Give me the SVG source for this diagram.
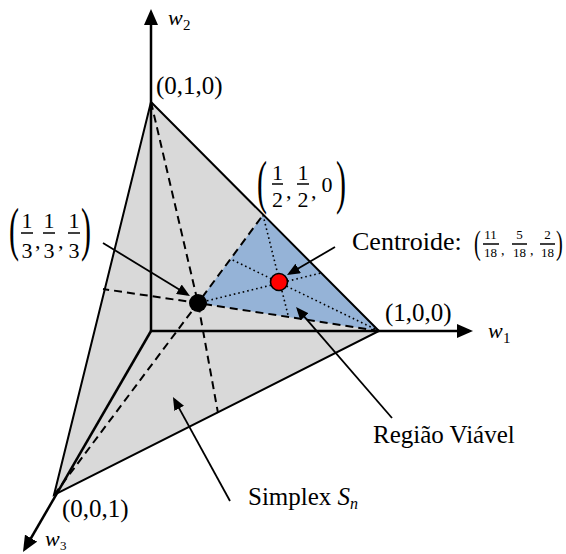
<svg xmlns="http://www.w3.org/2000/svg" width="566" height="554" viewBox="0 0 566 554">
<defs>
<style>
.edge{stroke:#000;stroke-width:2;fill:none;stroke-linejoin:miter}
.axis{stroke:#000;stroke-width:2.5;fill:none}
.dash{stroke:#000;stroke-width:2;stroke-dasharray:8 5;fill:none}
.dotl{stroke:#000;stroke-width:1.6;stroke-dasharray:1.6 3;fill:none}
.ptr{stroke:#000;stroke-width:1.8;fill:none}
.t{font-family:"Liberation Serif","Times New Roman",serif;fill:#000}
.it{font-family:"Liberation Serif","Times New Roman",serif;font-style:italic;fill:#000}
.fr{font-family:"Liberation Serif","Times New Roman",serif;fill:#000;text-anchor:middle}
.bar{stroke:#000;stroke-width:1.5}
</style>
<marker id="ax" markerUnits="userSpaceOnUse" viewBox="0 0 16 14" markerWidth="16" markerHeight="14" refX="12" refY="7" orient="auto"><path d="M0,0 L16,7 L0,14 z" fill="#000"/></marker>
<marker id="pt" markerUnits="userSpaceOnUse" viewBox="0 0 13 11" markerWidth="13" markerHeight="11" refX="10" refY="5.5" orient="auto"><path d="M0,0 L13,5.5 L0,11 z" fill="#000"/></marker>
</defs>
<rect width="566" height="554" fill="#fff"/>

<g id="simplex">
<polygon points="151,102 379,331 54,495" fill="#d9d9d9" stroke="none"/>
</g>
<g id="feasible-region">
<polygon points="263,215 198,303 379,331" fill="#95b3d7" stroke="none"/>
</g>

<g id="connectors">
<line class="axis" x1="151" y1="331" x2="151" y2="13" marker-end="url(#ax)"/>
<line class="axis" x1="151" y1="331" x2="469" y2="331" marker-end="url(#ax)"/>
<line class="axis" x1="151" y1="331" x2="25" y2="548.5" marker-end="url(#ax)"/>
<polygon class="edge" points="151,102 379,331 54,495"/>
<polyline class="dash" points="151,102 198,303 218,413"/>
<polyline class="dash" points="379,331 198,303 103,289"/>
<polyline class="dash" points="54,495 198,303 263,215"/>
<line class="dotl" x1="263" y1="215" x2="288.5" y2="317"/>
<line class="dotl" x1="198" y1="303" x2="321" y2="273"/>
<line class="dotl" x1="379" y1="331" x2="230.5" y2="259"/>
<line class="ptr" x1="103" y1="243" x2="187.4" y2="294.4" marker-end="url(#pt)"/>
<line class="ptr" x1="335" y1="247" x2="289.6" y2="273.5" marker-end="url(#pt)"/>
<line class="ptr" x1="392" y1="418" x2="298" y2="309.3" marker-end="url(#pt)"/>
<line class="ptr" x1="230" y1="501" x2="174.4" y2="399.6" marker-end="url(#pt)"/>
</g>

<g id="centroid-simplex"><circle cx="198" cy="303" r="9" fill="#000"/></g>
<g id="centroid-region"><circle cx="279" cy="282" r="8.5" fill="#ff0000" stroke="#000" stroke-width="1.6"/></g>

<g id="label-w2"><text class="it" x="168" y="25" font-size="22">w</text><text class="t" x="183" y="30" font-size="15">2</text></g>
<g id="label-w1"><text class="it" x="488" y="338" font-size="22">w</text><text class="t" x="503" y="343" font-size="15">1</text></g>
<g id="label-w3"><text class="it" x="45" y="546" font-size="22">w</text><text class="t" x="60" y="550" font-size="13">3</text></g>

<g id="vertex-010"><text class="t" x="156" y="94" font-size="25">(0,1,0)</text></g>
<g id="vertex-100"><text class="t" x="385" y="321" font-size="25">(1,0,0)</text></g>
<g id="vertex-001"><text class="t" x="62" y="517" font-size="25">(0,0,1)</text></g>

<g id="label-third">
<text class="t" font-size="60" transform="translate(9,248.5) scale(0.5,1)">(</text>
<text class="fr" x="27" y="228" font-size="22">1</text><line class="bar" x1="21" y1="233" x2="33" y2="233"/><text class="fr" x="27" y="258" font-size="22">3</text>
<text class="t" x="35" y="248" font-size="22">,</text>
<text class="fr" x="49" y="228" font-size="22">1</text><line class="bar" x1="43" y1="233" x2="55" y2="233"/><text class="fr" x="49" y="258" font-size="22">3</text>
<text class="t" x="58" y="248" font-size="22">,</text>
<text class="fr" x="74" y="228" font-size="22">1</text><line class="bar" x1="68" y1="233" x2="80" y2="233"/><text class="fr" x="74" y="258" font-size="22">3</text>
<text class="t" font-size="60" transform="translate(81,248.5) scale(0.5,1)">)</text>
</g>

<g id="label-half">
<text class="t" font-size="60" transform="translate(257,201.5) scale(0.5,1)">(</text>
<text class="fr" x="277.5" y="180" font-size="22">1</text><line class="bar" x1="272" y1="184" x2="283" y2="184"/><text class="fr" x="277.5" y="207" font-size="22">2</text>
<text class="t" x="286" y="198" font-size="22">,</text>
<text class="fr" x="303" y="180" font-size="22">1</text><line class="bar" x1="297" y1="184" x2="309" y2="184"/><text class="fr" x="303" y="207" font-size="22">2</text>
<text class="t" x="311" y="198" font-size="22">,</text>
<text class="fr" x="327" y="192" font-size="22">0</text>
<text class="t" font-size="60" transform="translate(336,201.5) scale(0.5,1)">)</text>
</g>

<g id="label-centroide">
<text class="t" x="352" y="250" font-size="26">Centroide:</text>
<text class="t" font-size="34" transform="translate(474,254) scale(0.6,1)">(</text>
<text class="fr" x="490.5" y="239" font-size="13">11</text><line class="bar" x1="483" y1="244" x2="499" y2="244" stroke-width="1"/><text class="fr" x="490.5" y="257" font-size="13">18</text>
<text class="t" x="501" y="255" font-size="14">,</text>
<text class="fr" x="519.5" y="239" font-size="13">5</text><line class="bar" x1="512" y1="244" x2="527" y2="244" stroke-width="1"/><text class="fr" x="519.5" y="257" font-size="13">18</text>
<text class="t" x="530" y="255" font-size="14">,</text>
<text class="fr" x="547.5" y="239" font-size="13">2</text><line class="bar" x1="540" y1="244" x2="555" y2="244" stroke-width="1"/><text class="fr" x="547.5" y="257" font-size="13">18</text>
<text class="t" font-size="34" transform="translate(556,254) scale(0.6,1)">)</text>
</g>

<g id="label-regiao"><text class="t" x="373" y="443" font-size="25">Região Viável</text></g>
<g id="label-simplex"><text class="t" x="248" y="505" font-size="25">Simplex <tspan class="it">S</tspan><tspan class="it" font-size="16" dy="4">n</tspan></text></g>
</svg>
